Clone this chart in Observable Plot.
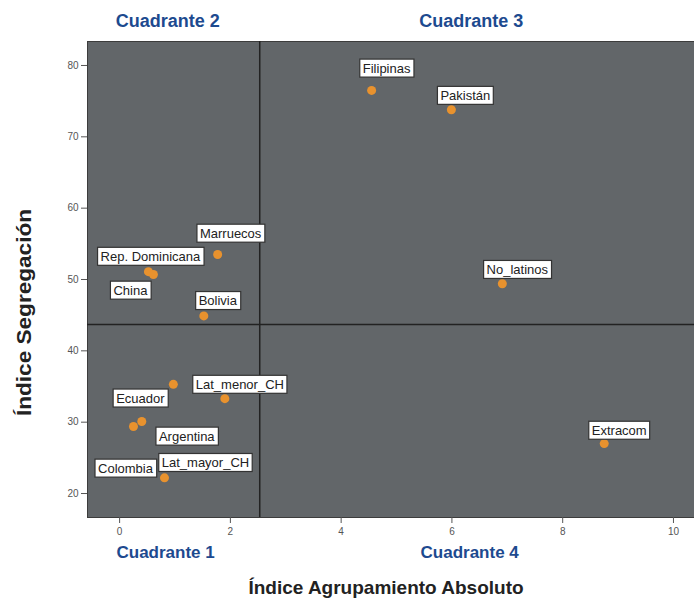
<!DOCTYPE html>
<html><head><meta charset="utf-8">
<script src="https://cdn.jsdelivr.net/npm/d3@7"></script>
<script src="https://cdn.jsdelivr.net/npm/@observablehq/plot@0.6"></script>
<style>
body{margin:0;background:#fff;font-family:"Liberation Sans",Arial,sans-serif}
#chart svg{display:block}
</style>
</head><body><div id="chart"></div>
<script>
// ---- data ----
const names = ["Filipinas","Pakistán","Marruecos","Rep. Dominicana","China","Bolivia","No_latinos","Lat_menor_CH","Ecuador","Argentina","Colombia","Lat_mayor_CH","Extracom"];
const agrupamiento = [4.55, 5.99, 1.77, 0.52, 0.61, 1.52, 6.91, 1.90, 0.97, 0.40, 0.25, 0.81, 8.75];
const segregacion  = [76.5, 73.8, 53.5, 51.1, 50.7, 44.9, 49.4, 33.3, 35.3, 30.1, 29.4, 22.2, 27.0];
const xTicks = [0, 2, 4, 6, 8, 10];
const yTicks = [20, 30, 40, 50, 60, 70, 80];
const refX = [2.53];
const refY = [43.7];
const quadTopNames = ["Cuadrante 2", "Cuadrante 3"];
const quadTopX = [0.87, 6.35];
const quadBottomNames = ["Cuadrante 1", "Cuadrante 4"];
const quadBottomX = [0.83, 6.32];
const xTitle = "Índice Agrupamiento Absoluto";
const yTitle = "Índice Segregación";
// label offsets (px) relative to each point
const labelDx = [15, 14, 13, 2, -23, 14, 15, 15, -33, 45, -8, 41, 15];
const labelDy = [-22, -14, -21, -15, 16, -15, -14, -14, 14, 15, 42, -15, -13];

const data = names.map((n, i) => ({name: n, x: agrupamiento[i], y: segregacion[i]}));
const labelMarks = data.map((d, i) => Plot.text([d], {
  x: "x", y: "y", text: "name", dx: labelDx[i], dy: labelDy[i],
  fontSize: 13, fill: "#222", className: "lbl"
}));

const blue = "#1d4a8f";
const plot = Plot.plot({
  width: 694, height: 600,
  marginLeft: 87, marginRight: 0, marginTop: 41, marginBottom: 83,
  x: {domain: [-0.58, 10.38]},
  y: {domain: [16.64, 83.36]},
  style: {fontFamily: "'Liberation Sans', Arial, sans-serif", background: "white", overflow: "visible"},
  marks: [
    Plot.frame({fill: "#626669", stroke: "#3c3c3c"}),
    Plot.ruleX(refX, {stroke: "#222", strokeWidth: 1.5}),
    Plot.ruleY(refY, {stroke: "#222", strokeWidth: 1.5}),
    Plot.axisX({ticks: xTicks, tickSize: 6, tickPadding: 4, fontSize: 10, color: "#555", label: null}),
    Plot.axisY({ticks: yTicks, tickSize: 6, tickPadding: 3, fontSize: 10, color: "#555", label: null}),
    Plot.dot(data, {x: "x", y: "y", r: 4.5, fill: "#e8922e"}),
    ...labelMarks,
    Plot.text(quadTopNames, {x: (d, i) => quadTopX[i], frameAnchor: "top", lineAnchor: "middle", dy: -20.5, text: d => d, fontSize: 18, fontWeight: "bold", fill: blue}),
    Plot.text(quadBottomNames, {x: (d, i) => quadBottomX[i], frameAnchor: "bottom", lineAnchor: "middle", dy: 35, text: d => d, fontSize: 17, fontWeight: "bold", fill: blue}),
    Plot.text([xTitle], {frameAnchor: "bottom", lineAnchor: "middle", dx: -5, dy: 70, text: d => d, fontSize: 19, fontWeight: "bold", fill: "#222"}),
    Plot.text([yTitle], {frameAnchor: "left", textAnchor: "middle", dx: -63, dy: 33, rotate: -90, text: d => d, fontSize: 20, fontWeight: "bold", fill: "#222", className: "ytitle"})
  ]
});
document.getElementById("chart").appendChild(plot);

// stretch y title to reference length
plot.querySelectorAll("g.ytitle text").forEach(t => {
  t.setAttribute("textLength", "207");
  t.setAttribute("lengthAdjust", "spacingAndGlyphs");
});

// white boxes behind labels
plot.querySelectorAll("g.lbl text").forEach(t => {
  const b = t.getBBox();
  const r = document.createElementNS("http://www.w3.org/2000/svg", "rect");
  const px = 3, py = 1.5;
  r.setAttribute("x", b.x - px);
  r.setAttribute("y", b.y - py);
  r.setAttribute("width", b.width + 2 * px);
  r.setAttribute("height", b.height + 2 * py);
  r.setAttribute("fill", "white");
  r.setAttribute("stroke", "#333");
  r.setAttribute("stroke-width", "1.2");
  const tr = t.getAttribute("transform");
  if (tr) r.setAttribute("transform", tr);
  t.parentNode.insertBefore(r, t);
});
</script>
</body></html>
